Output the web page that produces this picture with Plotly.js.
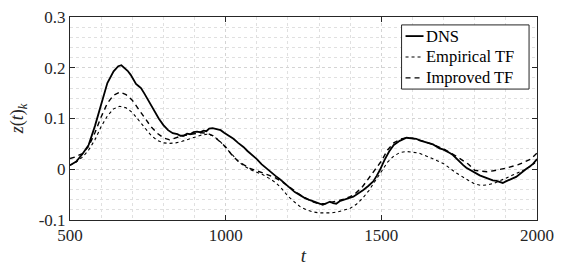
<!DOCTYPE html>
<html><head><meta charset="utf-8">
<script src="https://cdn.plot.ly/plotly-3.0.1.min.js"></script>
<style>html,body{margin:0;padding:0;background:#fff}#chart{width:586px;height:267px}</style>
</head><body><div id="chart"></div>
<script>
const dnsT = [500,520,540,560,580,600,620,640,655,665,675,685,695,705,712,720,728,740,755,770,785,800,815,830,845,855,865,876,886,897,908,918,929,938,947,958,972,984,995,1010,1025,1040,1057,1070,1085,1100,1115,1130,1145,1160,1175,1190,1207,1222,1239,1255,1271,1287,1303,1312,1320,1328,1335,1345,1355,1366,1378,1390,1400,1410,1425,1442,1458,1474,1485,1495,1510,1525,1540,1559,1581,1602,1612,1623,1635,1645,1656,1666,1677,1687,1698,1709,1720,1730,1741,1752,1763,1773,1794,1816,1837,1858,1870,1880,1890,1900,1912,1922,1933,1944,1955,1966,1976,1988,2000];
const dnsZ = [0.008,0.015,0.030,0.048,0.085,0.130,0.170,0.193,0.203,0.205,0.200,0.194,0.186,0.176,0.168,0.164,0.160,0.148,0.132,0.116,0.100,0.087,0.077,0.071,0.069,0.066,0.066,0.070,0.069,0.073,0.074,0.073,0.076,0.075,0.080,0.081,0.079,0.077,0.072,0.066,0.060,0.052,0.044,0.036,0.028,0.020,0.010,0.002,-0.006,-0.013,-0.020,-0.028,-0.038,-0.045,-0.051,-0.057,-0.061,-0.065,-0.068,-0.070,-0.068,-0.066,-0.064,-0.067,-0.068,-0.063,-0.061,-0.059,-0.056,-0.054,-0.048,-0.041,-0.033,-0.024,-0.013,-0.002,0.018,0.035,0.048,0.056,0.062,0.061,0.060,0.057,0.055,0.052,0.051,0.049,0.045,0.041,0.039,0.036,0.032,0.028,0.021,0.014,0.008,0.003,-0.005,-0.012,-0.017,-0.022,-0.023,-0.025,-0.027,-0.024,-0.020,-0.018,-0.015,-0.009,-0.003,0.001,0.005,0.011,0.020];

const empT = [500,520,540,560,580,600,620,640,660,680,700,720,740,760,780,800,820,840,860,880,900,920,940,960,980,1000,1020,1040,1060,1080,1100,1120,1140,1160,1180,1200,1220,1240,1260,1280,1300,1320,1340,1360,1380,1400,1420,1440,1460,1480,1500,1520,1540,1560,1580,1600,1620,1660,1700,1740,1760,1780,1800,1820,1840,1860,1880,1900,1920,1960,2000];
const empZ = [0.008,0.014,0.024,0.038,0.058,0.084,0.105,0.119,0.124,0.121,0.112,0.097,0.081,0.067,0.057,0.052,0.051,0.052,0.055,0.059,0.063,0.067,0.069,0.066,0.056,0.043,0.030,0.016,0.006,-0.001,-0.006,-0.011,-0.018,-0.026,-0.038,-0.053,-0.064,-0.074,-0.080,-0.084,-0.086,-0.086,-0.086,-0.084,-0.081,-0.077,-0.069,-0.057,-0.042,-0.024,-0.005,0.014,0.026,0.033,0.035,0.034,0.032,0.022,0.011,-0.007,-0.015,-0.022,-0.029,-0.032,-0.031,-0.028,-0.023,-0.018,-0.012,-0.001,0.015];

const impT = [500,520,540,560,580,600,620,640,660,680,700,720,740,760,780,800,820,840,860,880,900,920,940,960,980,1000,1020,1040,1060,1080,1100,1120,1140,1160,1180,1200,1220,1240,1260,1280,1300,1320,1340,1360,1380,1400,1420,1440,1460,1480,1500,1520,1540,1560,1580,1600,1620,1660,1700,1740,1780,1800,1820,1840,1860,1880,1900,1940,1980,2000];
const impZ = [0.021,0.025,0.031,0.045,0.072,0.103,0.130,0.146,0.152,0.147,0.136,0.118,0.100,0.084,0.071,0.062,0.058,0.062,0.066,0.068,0.070,0.072,0.071,0.066,0.055,0.044,0.028,0.016,0.008,0.001,-0.003,-0.007,-0.012,-0.017,-0.024,-0.033,-0.042,-0.051,-0.058,-0.064,-0.068,-0.068,-0.065,-0.062,-0.059,-0.054,-0.046,-0.034,-0.018,0.000,0.016,0.038,0.052,0.059,0.062,0.061,0.058,0.050,0.040,0.026,0.010,-0.002,-0.004,-0.005,-0.003,-0.001,0.002,0.009,0.020,0.032];

const seriesNames = ['DNS','Empirical TF','Improved TF'];
const xTicks = [500,1000,1500,2000];
const yTicks = [-0.1,0,0.1,0.2,0.3];
const yTickText = ['-0.1','0','0.1','0.2','0.3'];

const F = 'Liberation Serif';
const styles = [
  {color: '#000', width: 1.8},
  {color: '#000', width: 1.1, dash: 'dot'},
  {color: '#000', width: 1.4, dash: '5px,4px'}
];
const traces = [
  {x: dnsT, y: dnsZ, name: seriesNames[0], mode: 'lines', line: styles[0]},
  {x: empT, y: empZ, name: seriesNames[1], mode: 'lines', line: styles[1]},
  {x: impT, y: impZ, name: seriesNames[2], mode: 'lines', line: styles[2]}
];

// legend drawn as shapes + annotations (paper coords over plot area)
const legRows = [0.906, 0.803, 0.700];
const shapes = [{type: 'rect', xref: 'paper', yref: 'paper', x0: 0.710, x1: 0.983, y0: 0.645, y1: 0.961,
                 line: {color: '#262626', width: 1}, fillcolor: '#fff', layer: 'above'}];
const annotations = [];
seriesNames.forEach((n, i) => {
  shapes.push({type: 'line', xref: 'paper', yref: 'paper', x0: 0.7185, x1: 0.757, y0: legRows[i], y1: legRows[i],
               line: styles[i], layer: 'above'});
  annotations.push({xref: 'paper', yref: 'paper', x: 0.759, y: legRows[i], xanchor: 'left', yanchor: 'middle',
                    text: n, showarrow: false, font: {family: F, size: 16.5, color: '#000'}});
});

const axisCommon = {
  showline: true, linecolor: '#262626', linewidth: 1, mirror: 'ticks',
  ticks: 'inside', ticklen: 5, tickcolor: '#262626',
  showgrid: true, gridcolor: '#d4d4d4', griddash: 'dot', gridwidth: 1,
  zeroline: false, tickfont: {family: F, size: 17, color: '#262626'}
};
const layout = {
  width: 586, height: 267,
  margin: {l: 70, r: 49, t: 17, b: 47},
  paper_bgcolor: '#fff', plot_bgcolor: '#fff',
  showlegend: false,
  shapes: shapes, annotations: annotations,
  xaxis: Object.assign({}, axisCommon, {
    range: [500, 2000], tickvals: xTicks, ticktext: xTicks.map(String),
    minor: {dtick: 100, showgrid: true, gridcolor: '#e0e0e0', griddash: 'dot', ticks: ''},
    title: {text: '<i>t</i>', font: {family: F, size: 19, color: '#262626'}, standoff: 4}
  }),
  yaxis: Object.assign({}, axisCommon, {
    range: [-0.1, 0.3], tickvals: yTicks, ticktext: yTickText,
    minor: {dtick: 0.02, showgrid: true, gridcolor: '#e0e0e0', griddash: 'dot', ticks: ''},
    title: {text: '<i>z</i>(<i>t</i>)<sub><i>k</i></sub>', font: {family: F, size: 18, color: '#262626'}, standoff: 10}
  })
};
Plotly.newPlot('chart', traces, layout, {displayModeBar: false, staticPlot: true});
</script></body></html>
